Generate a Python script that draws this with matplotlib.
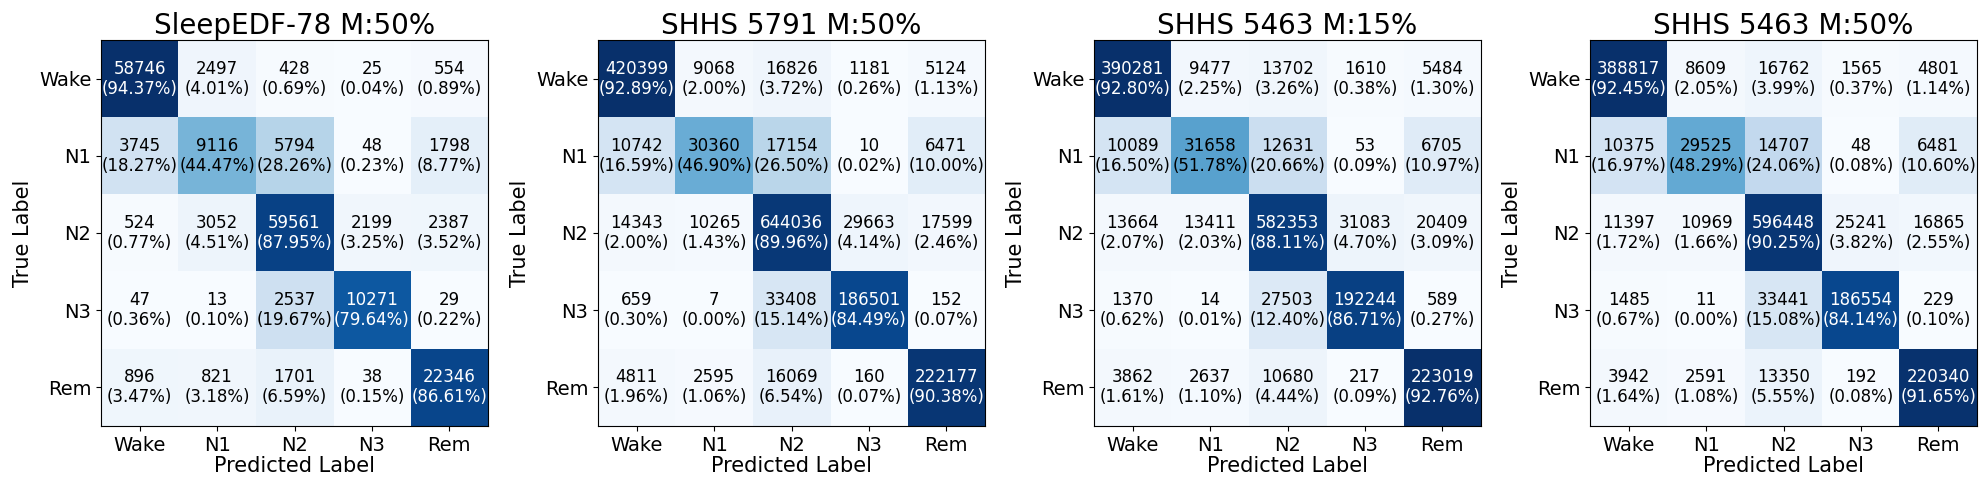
import numpy as np
import matplotlib
matplotlib.use("Agg")
import matplotlib.pyplot as plt

labels = ["Wake", "N1", "N2", "N3", "Rem"]

titles = ["SleepEDF-78 M:50%", "SHHS 5791 M:50%", "SHHS 5463 M:15%", "SHHS 5463 M:50%"]

cm_edf78 = [
    [58746, 2497, 428, 25, 554],
    [3745, 9116, 5794, 48, 1798],
    [524, 3052, 59561, 2199, 2387],
    [47, 13, 2537, 10271, 29],
    [896, 821, 1701, 38, 22346],
]
cm_shhs5791_50 = [
    [420399, 9068, 16826, 1181, 5124],
    [10742, 30360, 17154, 10, 6471],
    [14343, 10265, 644036, 29663, 17599],
    [659, 7, 33408, 186501, 152],
    [4811, 2595, 16069, 160, 222177],
]
cm_shhs5463_15 = [
    [390281, 9477, 13702, 1610, 5484],
    [10089, 31658, 12631, 53, 6705],
    [13664, 13411, 582353, 31083, 20409],
    [1370, 14, 27503, 192244, 589],
    [3862, 2637, 10680, 217, 223019],
]
cm_shhs5463_50 = [
    [388817, 8609, 16762, 1565, 4801],
    [10375, 29525, 14707, 48, 6481],
    [11397, 10969, 596448, 25241, 16865],
    [1485, 11, 33441, 186554, 229],
    [3942, 2591, 13350, 192, 220340],
]

matrices = [cm_edf78, cm_shhs5791_50, cm_shhs5463_15, cm_shhs5463_50]

W, H = 1985, 491
fig = plt.figure(figsize=(W / 100, H / 100), dpi=100)

lefts = [101, 598, 1094, 1590]
ax_w = 387
ax_h = 386
ax_bottom = H - 426

for title, cm, lp in zip(titles, matrices, lefts):
    ax = fig.add_axes([lp / W, ax_bottom / H, ax_w / W, ax_h / H])
    cm = np.array(cm, dtype=float)
    norm = cm / cm.sum(axis=1, keepdims=True)
    ax.imshow(norm, cmap="Blues", aspect="auto", interpolation="nearest")
    for i in range(5):
        for j in range(5):
            color = "white" if norm[i, j] > 0.6 else "black"
            ax.text(j, i, f"{int(cm[i, j])}\n({norm[i, j] * 100:.2f}%)",
                    ha="center", va="center", fontsize=12, color=color, linespacing=1.15)
    ax.set_xticks(range(5))
    ax.set_yticks(range(5))
    ax.set_xticklabels(labels, fontsize=14)
    ax.set_yticklabels(labels, fontsize=14)
    ax.set_xlabel("Predicted Label", fontsize=15, labelpad=1)
    ax.set_ylabel("True Label", fontsize=15)
    ax.set_title(title, fontsize=20, pad=1.5)

fig.savefig("out.png", dpi=100)
